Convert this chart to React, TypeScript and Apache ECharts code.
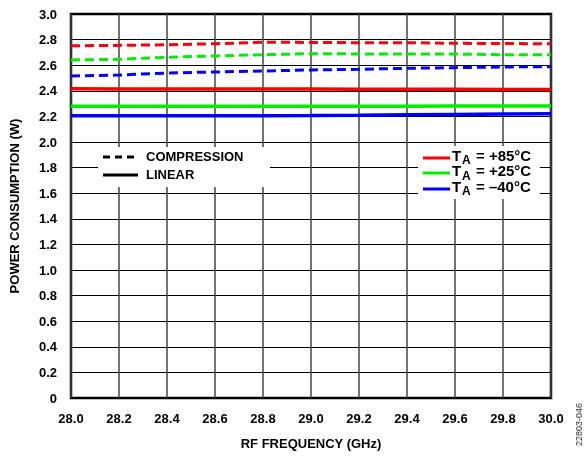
import React, { useEffect, useRef } from "react";
import * as echarts from "echarts";

const freqs = [28.0, 28.2, 28.4, 28.6, 28.8, 29.0, 29.2, 29.4, 29.6, 29.8, 30.0];
const compP85 = [2.752, 2.755, 2.76, 2.768, 2.779, 2.778, 2.776, 2.776, 2.771, 2.769, 2.768];
const compP25 = [2.641, 2.646, 2.662, 2.672, 2.682, 2.69, 2.688, 2.688, 2.687, 2.682, 2.682];
const compM40 = [2.516, 2.523, 2.539, 2.547, 2.555, 2.563, 2.568, 2.576, 2.581, 2.586, 2.589];
const linP85 = [2.416, 2.415, 2.415, 2.415, 2.414, 2.414, 2.413, 2.412, 2.412, 2.411, 2.41];
const linP25 = [2.28, 2.28, 2.28, 2.28, 2.28, 2.28, 2.28, 2.28, 2.281, 2.281, 2.281];
const linM40 = [2.205, 2.205, 2.205, 2.205, 2.206, 2.207, 2.209, 2.212, 2.215, 2.218, 2.221];
const tempLabels = ["+85°C", "+25°C", "\u201340°C"];

const RED = "#ff0000";
const GREEN = "#00f000";
const BLUE = "#0000ff";
const FONT = "'Liberation Sans', Arial, sans-serif";

function pts(ys: number[]) {
  return freqs.map((f, i) => [f, ys[i]]);
}

export default function App() {
  const ref = useRef<HTMLDivElement>(null);
  useEffect(() => {
    if (!ref.current) return;
    const chart = echarts.init(ref.current, null, { renderer: "svg" });
    const dashed = (name: string, color: string, ys: number[]) => ({
      name,
      type: "line",
      data: pts(ys),
      showSymbol: false,
      lineStyle: { color, width: 3, type: [9, 5] },
      z: 5,
    });
    const solid = (name: string, color: string, ys: number[]) => ({
      name,
      type: "line",
      data: pts(ys),
      showSymbol: false,
      lineStyle: { color, width: 3.5 },
      z: 5,
    });
    const bold = { fontFamily: FONT, fontWeight: "bold", fontSize: 13, fill: "#000" };
    const tempText = (label: string, y: number) => [
      {
        type: "text",
        z: 101,
        x: 452,
        y,
        style: { ...bold, fontSize: 15, lineHeight: 14, text: "T", verticalAlign: "middle" },
      },
      {
        type: "text",
        z: 101,
        x: 462,
        y: y + 5,
        style: { ...bold, fontSize: 12, lineHeight: 11, text: "A", verticalAlign: "middle" },
      },
      {
        type: "text",
        z: 101,
        x: 476,
        y,
        style: { ...bold, fontSize: 15, lineHeight: 14, text: `= ${label}`, verticalAlign: "middle" },
      },
    ];
    const rows = [155, 170.5, 186];
    chart.setOption({
      animation: false,
      grid: { left: 71, top: 14, right: 37, bottom: 59, show: true, borderColor: "#000", borderWidth: 2.5, backgroundColor: "transparent" },
      xAxis: {
        type: "value",
        min: 28,
        max: 30,
        interval: 0.2,
        name: "RF FREQUENCY (GHz)",
        nameLocation: "middle",
        nameGap: 39,
        nameTextStyle: { fontFamily: FONT, fontWeight: "bold", fontSize: 13, color: "#000" },
        axisLine: { show: false },
        axisTick: { show: false },
        axisLabel: {
          formatter: (v: number) => v.toFixed(1),
          fontFamily: FONT,
          fontWeight: "bold",
          fontSize: 13,
          color: "#000",
          margin: 14,
        },
        splitLine: { show: true, lineStyle: { color: "#444", width: 1.5 } },
      },
      yAxis: {
        type: "value",
        min: 0,
        max: 3,
        interval: 0.2,
        name: "POWER CONSUMPTION (W)",
        nameLocation: "middle",
        nameGap: 50,
        nameTextStyle: { fontFamily: FONT, fontWeight: "bold", fontSize: 13, color: "#000" },
        axisLine: { show: false },
        axisTick: { show: false },
        axisLabel: {
          formatter: (v: number) => (Math.abs(v) < 1e-9 ? "0" : v.toFixed(1)),
          fontFamily: FONT,
          fontWeight: "bold",
          fontSize: 13,
          color: "#000",
          margin: 14,
        },
        splitLine: { show: true, lineStyle: { color: "#000", width: 1 } },
      },
      series: [
        dashed("comp85", RED, compP85),
        dashed("comp25", GREEN, compP25),
        dashed("compM40", BLUE, compM40),
        solid("lin85", RED, linP85),
        solid("lin25", GREEN, linP25),
        solid("linM40", BLUE, linM40),
      ],
      graphic: [
        { type: "rect", z: 100, shape: { x: 98, y: 147, width: 172, height: 40 }, style: { fill: "#fff" } },
        { type: "line", z: 101, shape: { x1: 103, y1: 157, x2: 138, y2: 157 }, style: { stroke: "#000", lineWidth: 3, lineDash: [7, 5] } },
        { type: "line", z: 101, shape: { x1: 103, y1: 175, x2: 138, y2: 175 }, style: { stroke: "#000", lineWidth: 3 } },
        { type: "text", z: 101, left: 146, top: 150, style: { ...bold, text: "COMPRESSION" } },
        { type: "text", z: 101, left: 146, top: 168, style: { ...bold, text: "LINEAR" } },
        { type: "rect", z: 100, shape: { x: 418, y: 146, width: 122, height: 53 }, style: { fill: "#fff" } },
        { type: "line", z: 101, shape: { x1: 423, y1: 158, x2: 450, y2: 158 }, style: { stroke: RED, lineWidth: 3 } },
        { type: "line", z: 101, shape: { x1: 423, y1: 173, x2: 450, y2: 173 }, style: { stroke: GREEN, lineWidth: 3 } },
        { type: "line", z: 101, shape: { x1: 423, y1: 189, x2: 450, y2: 189 }, style: { stroke: BLUE, lineWidth: 3 } },
        ...tempText(tempLabels[0], rows[0]),
        ...tempText(tempLabels[1], rows[1]),
        ...tempText(tempLabels[2], rows[2]),
        {
          type: "text",
          z: 101,
          x: 574,
          y: 446,
          rotation: Math.PI / 2,
          style: { text: "22803-046", fontFamily: FONT, fontSize: 9, fill: "#333" },
        },
      ],
    });
    return () => chart.dispose();
  }, []);
  return <div ref={ref} style={{ position: "fixed", left: 0, top: 0, width: 588, height: 457 }} />;
}
